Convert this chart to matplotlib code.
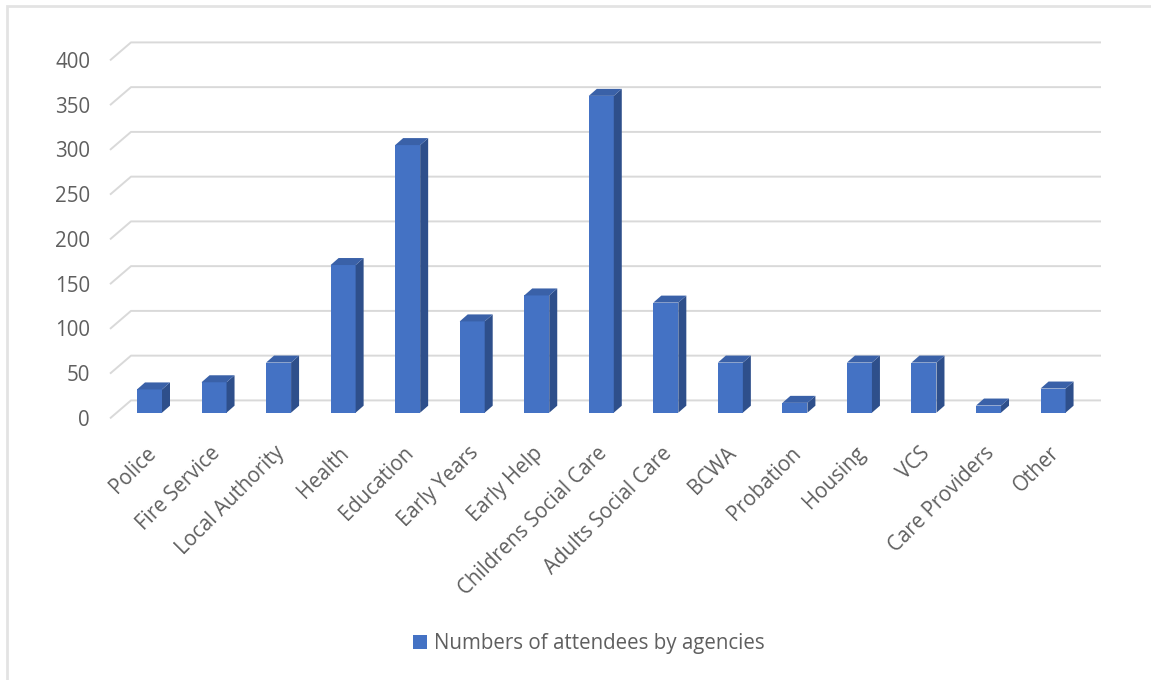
import matplotlib
matplotlib.use('Agg')
import matplotlib.pyplot as plt
from matplotlib.patches import Polygon, Rectangle, Patch

categories = ['Police', 'Fire Service', 'Local Authority', 'Health', 'Education',
              'Early Years', 'Early Help', 'Childrens Social Care', 'Adults Social Care',
              'BCWA', 'Probation', 'Housing', 'VCS', 'Care Providers', 'Other']
values = [26, 34, 56, 165, 299, 102, 131, 354, 123, 56, 11, 56, 56, 8, 27]
y_ticks = [0, 50, 100, 150, 200, 250, 300, 350, 400]
series_name = 'Numbers of attendees by agencies'

plt.rcParams['font.family'] = ['Open Sans', 'DejaVu Sans']

W, H = 1151, 680
fig = plt.figure(figsize=(W / 100, H / 100), dpi=100)
ax = fig.add_axes([0, 0, 1, 1])

# layout scale (pixels per category / per value unit)
x0_px, sx = 149.5, 64.54
y0_px, sy = 412.7, 0.895
ax.set_xlim(-x0_px / sx, (W - x0_px) / sx)
ax.set_ylim(-(H - y0_px) / sy, y0_px / sy)
ax.axis('off')

front_c = '#4472C4'
side_c = '#2E4F8B'
top_c = '#3A61A8'
grid_c = '#D9D9D9'
text_c = '#5F5F5F'
fs = 14.8

# floor / back wall geometry
x_front_left = (110 - x0_px) / sx
x_back_left = (131 - x0_px) / sx
x_right = (1101 - x0_px) / sx
back_off = 12.3 / sy
front_off = -5.7 / sy

for t in y_ticks:
    ax.plot([x_front_left, x_back_left, x_right],
            [t + front_off, t + back_off, t + back_off],
            color=grid_c, lw=1.4, zorder=1, solid_capstyle='butt')
    ax.text((90 - x0_px) / sx, t + front_off - 2 / sy, str(t), ha='right', va='center',
            fontsize=fs, color=text_c)

# bars with pseudo-3D depth
bw = 25 / sx
dx = 8 / sx
dy = 7 / sy
xs = list(range(len(categories)))
ax.bar(xs, values, width=bw, color=front_c, zorder=3, linewidth=0)
for x, v in zip(xs, values):
    r = x + bw / 2
    l = x - bw / 2
    ax.add_patch(Polygon([(r, 0), (r + dx, dy), (r + dx, v + dy), (r, v)],
                         closed=True, facecolor=side_c, edgecolor='none', zorder=3))
    ax.add_patch(Polygon([(l, v), (r, v), (r + dx, v + dy), (l + dx, v + dy)],
                         closed=True, facecolor=top_c, edgecolor='none', zorder=3))

# category labels
for x, c in zip(xs, categories):
    ax.text(x + 3 / sx, -(450 - y0_px) / sy, c, rotation=45, rotation_mode='anchor',
            ha='right', va='center', fontsize=fs, color=text_c)

fig.legend(handles=[Patch(facecolor=front_c, edgecolor='none')], labels=[series_name],
           loc='center', bbox_to_anchor=(589 / W, 1 - 644 / H), frameon=False,
           handlelength=0.65, handleheight=0.65, handletextpad=0.35,
           fontsize=fs, labelcolor=text_c)

fig.add_artist(Rectangle((7 / W, -0.1), 1.2, (H - 6) / H + 0.1, transform=fig.transFigure,
                         fill=False, edgecolor='#E3E3E3', lw=2))

fig.savefig('out.png', dpi=100, facecolor='white')
